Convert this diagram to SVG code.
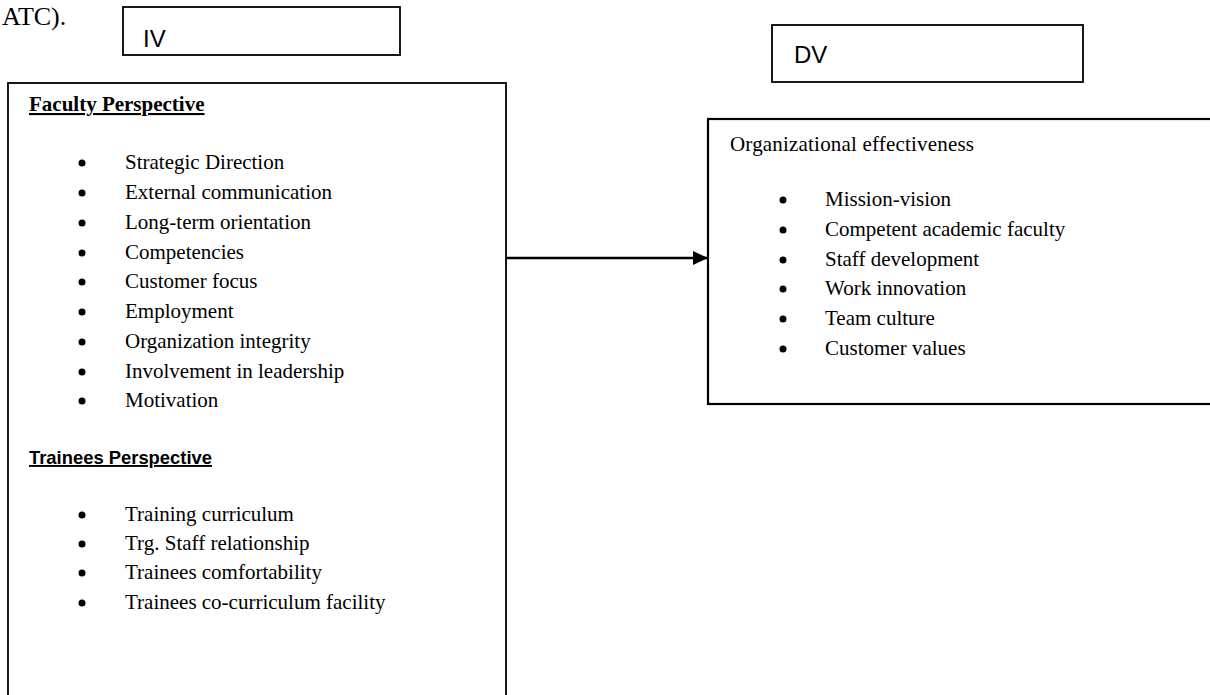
<svg xmlns="http://www.w3.org/2000/svg" width="1210" height="695" viewBox="0 0 1210 695">
<style>
.box{fill:#fff;stroke:#000;stroke-width:1.8}
.t{font-family:"Liberation Serif","Times New Roman",serif;font-size:21px;fill:#000}
.h{font-family:"Liberation Serif","Times New Roman",serif;font-size:21px;font-weight:bold;fill:#000;text-decoration:underline}
.h2{font-family:"Liberation Sans",Arial,sans-serif;font-size:19px;font-weight:bold;fill:#000;text-decoration:underline}
.lab{font-family:"Liberation Sans",Arial,sans-serif;font-size:24px;fill:#000}
.b{fill:#000}
</style>
<defs>
<marker id="ah" markerWidth="16" markerHeight="14" refX="15" refY="7" orient="auto" markerUnits="userSpaceOnUse">
<polygon points="0,0 15,7 0,14" fill="#000"/>
</marker>
</defs>
<rect width="1210" height="695" fill="#fff"/>
<text class="t" x="2" y="25" style="font-size:26px">ATC).</text>

<g id="iv">
<rect class="box" x="123" y="7" width="277" height="48"/>
<text class="lab" x="143" y="47">IV</text>
</g>

<g id="dv">
<rect class="box" x="772" y="25" width="311" height="57"/>
<text class="lab" x="794" y="63">DV</text>
</g>

<g id="independent">
<rect class="box" x="8" y="83" width="498" height="630"/>
<text class="h" x="29" y="111">Faculty Perspective</text>
<g class="b">
<circle cx="82" cy="163" r="3.5"/><circle cx="82" cy="193" r="3.5"/><circle cx="82" cy="223" r="3.5"/>
<circle cx="82" cy="253" r="3.5"/><circle cx="82" cy="282" r="3.5"/><circle cx="82" cy="312" r="3.5"/>
<circle cx="82" cy="342" r="3.5"/><circle cx="82" cy="372" r="3.5"/><circle cx="82" cy="401" r="3.5"/>
<circle cx="82" cy="515" r="3.5"/><circle cx="82" cy="544" r="3.5"/><circle cx="82" cy="573" r="3.5"/>
<circle cx="82" cy="603" r="3.5"/>
</g>
<text class="t" x="125" y="169">Strategic Direction</text>
<text class="t" x="125" y="199">External communication</text>
<text class="t" x="125" y="229">Long-term orientation</text>
<text class="t" x="125" y="259">Competencies</text>
<text class="t" x="125" y="288">Customer focus</text>
<text class="t" x="125" y="318">Employment</text>
<text class="t" x="125" y="348">Organization integrity</text>
<text class="t" x="125" y="378">Involvement in leadership</text>
<text class="t" x="125" y="407">Motivation</text>
<text class="h2" x="29" y="464" textLength="183" lengthAdjust="spacingAndGlyphs">Trainees Perspective</text>
<text class="t" x="125" y="521">Training curriculum</text>
<text class="t" x="125" y="550">Trg. Staff relationship</text>
<text class="t" x="125" y="579">Trainees comfortability</text>
<text class="t" x="125" y="609">Trainees co-curriculum facility</text>
</g>

<g id="dependent">
<rect class="box" x="708" y="119" width="520" height="285" style="stroke-width:2.2"/>
<text class="t" x="730" y="151" textLength="244" lengthAdjust="spacing">Organizational  effectiveness</text>
<g class="b">
<circle cx="783" cy="200" r="3.5"/><circle cx="783" cy="230" r="3.5"/><circle cx="783" cy="260" r="3.5"/>
<circle cx="783" cy="289" r="3.5"/><circle cx="783" cy="319" r="3.5"/><circle cx="783" cy="349" r="3.5"/>
</g>
<text class="t" x="825" y="206">Mission-vision</text>
<text class="t" x="825" y="236">Competent academic faculty</text>
<text class="t" x="825" y="266">Staff development</text>
<text class="t" x="825" y="295">Work innovation</text>
<text class="t" x="825" y="325">Team culture</text>
<text class="t" x="825" y="355">Customer values</text>
</g>

<g id="connectors">
<line x1="506" y1="258" x2="708" y2="258" stroke="#000" stroke-width="2.5" marker-end="url(#ah)"/>
</g>
</svg>
